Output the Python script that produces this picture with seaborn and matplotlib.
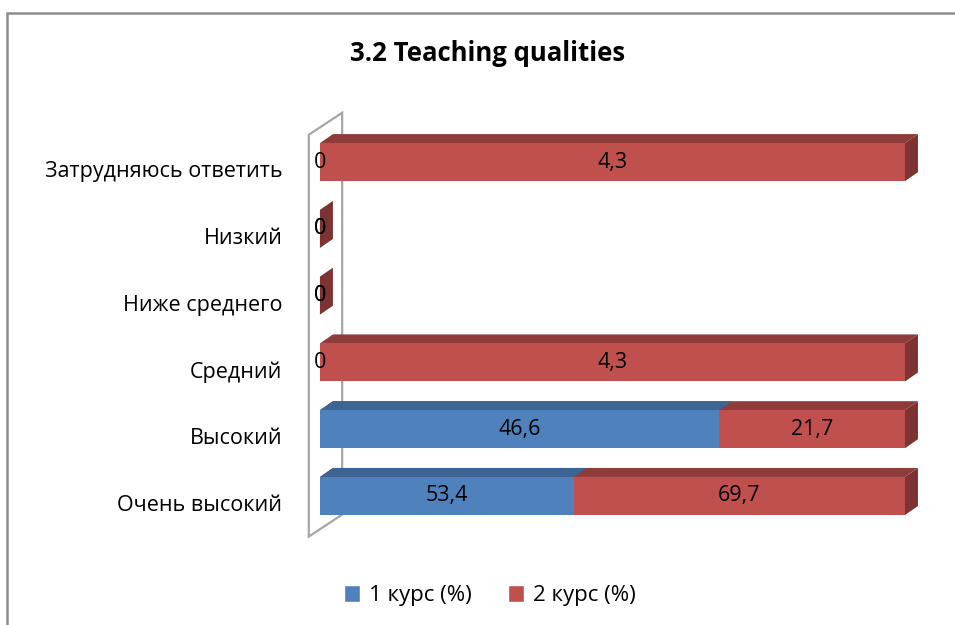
import numpy as np
import pandas as pd
import matplotlib
matplotlib.use("Agg")
import matplotlib.pyplot as plt
import matplotlib.transforms as mtransforms
from matplotlib.patches import Polygon, Rectangle
import seaborn as sns

# -----------------------------
# Data
# -----------------------------
categories = ["Затрудняюсь ответить", "Низкий", "Ниже среднего",
              "Средний", "Высокий", "Очень высокий"]
kurs1 = [0, 0, 0, 0, 46.6, 53.4]
kurs2 = [4.3, 0, 0, 4.3, 21.7, 69.7]
series_names = ["1 курс (%)", "2 курс (%)"]

front_colors = ["#4F81BD", "#C0504D"]
top_colors = ["#3D6593", "#8E3B39"]
side_colors = ["#35577F", "#7D3331"]

# 100% stacked shares
k1 = np.array(kurs1)
k2 = np.array(kurs2)
total = k1 + k2
safe_total = np.where(total > 0, total, 1)
share1 = np.where(total > 0, k1 / safe_total, 0)
share2 = np.where(total > 0, k2 / safe_total, 0)

df = pd.DataFrame({"cat": categories, "s1": share1, "s12": share1 + share2})

# -----------------------------
# Figure
# -----------------------------
sns.set_style("white")
plt.rcParams["font.family"] = ["Open Sans", "DejaVu Sans"]
plt.rcParams["text.color"] = "black"
plt.rcParams["ytick.color"] = "black"

fig = plt.figure(figsize=(9.55, 6.25), dpi=100)
ax = fig.add_axes([0.335, 0.153, 0.6126, 0.641])

bar_h = 0.57
# red (cumulative) drawn first, blue on top
sns.barplot(data=df, y="cat", x="s12", color=front_colors[1], orient="h",
            width=bar_h, ax=ax, saturation=1, zorder=3, linewidth=0)
sns.barplot(data=df, y="cat", x="s1", color=front_colors[0], orient="h",
            width=bar_h, ax=ax, saturation=1, zorder=3, linewidth=0)

ax.set_xlim(0, 1)
ax.set_ylim(len(categories) - 0.5, -0.5)
ax.set_xlabel("")
ax.set_ylabel("")
ax.set_xticks([])
for s in ax.spines.values():
    s.set_visible(False)

# 3D depth offsets
dx_in, dy_in = 0.13, 0.09
shift = mtransforms.ScaledTranslation(dx_in, dy_in, fig.dpi_scale_trans)

ncat = len(categories)
red_patches = ax.patches[:ncat]
blue_patches = ax.patches[ncat:2 * ncat]


def add_depth(p, top_c, side_c, side=False):
    x0 = p.get_x()
    w = p.get_width()
    yt = p.get_y()  # top edge in data (inverted y)
    yb = yt + p.get_height()
    t = ax.transData
    ts = ax.transData + shift
    inv = ax.transData.inverted()
    if w > 0:
        f = t.transform([(x0, yt), (x0 + w, yt)])
        b = ts.transform([(x0 + w, yt), (x0, yt)])
        ax.add_patch(Polygon(inv.transform(np.vstack([f, b])), closed=True,
                             facecolor=top_c, edgecolor="none", zorder=2,
                             clip_on=False))
    if side:
        f = t.transform([(x0 + w, yt), (x0 + w, yb)])
        b = ts.transform([(x0 + w, yb), (x0 + w, yt)])
        ax.add_patch(Polygon(inv.transform(np.vstack([f, b])), closed=True,
                             facecolor=side_c, edgecolor="none", zorder=2,
                             clip_on=False))


for i in range(ncat):
    add_depth(red_patches[i], top_colors[1], side_colors[1], side=True)
    add_depth(blue_patches[i], top_colors[0], side_colors[0], side=False)

# back wall
wall = Polygon([(-0.019, -0.018), (-0.019, 0.985), (0.038, 1.04), (0.038, 0.037)],
               closed=True, transform=ax.transAxes, facecolor="white",
               edgecolor="#A6A6A6", linewidth=1.6, zorder=1, clip_on=False)
ax.add_patch(wall)

# value labels
for i in range(ncat):
    b = blue_patches[i]
    r = red_patches[i]
    bx = b.get_width() / 2 if kurs1[i] > 0 else 0
    ax.text(bx, i, f"{kurs1[i]:g}".replace(".", ","), ha="center", va="center",
            fontsize=15.5, zorder=5)
    rstart = b.get_width()
    rx = (rstart + r.get_width()) / 2 if kurs2[i] > 0 else rstart
    ax.text(rx, i, f"{kurs2[i]:g}".replace(".", ","), ha="center", va="center",
            fontsize=15.5, zorder=5)

# category labels
ax.tick_params(axis="y", length=0, labelsize=15.5, pad=27)
label_shift = mtransforms.ScaledTranslation(0, -0.07, fig.dpi_scale_trans)
for lbl in ax.get_yticklabels():
    lbl.set_transform(lbl.get_transform() + label_shift)

# title
fig.text(0.511, 0.915, "3.2 Teaching qualities", ha="center", va="center",
         fontsize=18.5, fontweight="bold")

# legend
handles = [Rectangle((0, 0), 1, 1, facecolor=c) for c in front_colors]
fig.legend(handles, series_names, loc="center", bbox_to_anchor=(0.513, 0.047),
           ncol=2, frameon=False, fontsize=16, handlelength=0.75,
           handleheight=0.75, columnspacing=1.6, handletextpad=0.4)

# outer chart border
fig.add_artist(Rectangle((0.0075, -0.1), 1.1, 1.08, transform=fig.transFigure,
                         facecolor="none", edgecolor="#8C8C8C", linewidth=1.8))

fig.savefig("out.png", dpi=100)
